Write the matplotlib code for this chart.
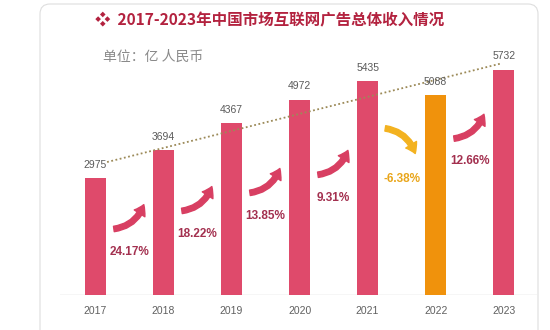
import matplotlib
matplotlib.use("Agg")
import matplotlib.pyplot as plt
import numpy as np
from matplotlib.patches import FancyArrowPatch, FancyBboxPatch

years = ["2017", "2018", "2019", "2020", "2021", "2022", "2023"]
revenue = [2975, 3694, 4367, 4972, 5435, 5088, 5732]

plt.rcParams["font.family"] = ["Noto Sans CJK SC", "DejaVu Sans"]

RED = "#df4a6b"
ORANGE = "#f0920c"
PCT_RED = "#a3304f"
PCT_GOLD = "#e9a61c"
ARROW_RED = "#d83f62"
ARROW_GOLD = "#f3b220"
GRAY_TXT = "#5a5a5a"

fig = plt.figure(figsize=(5.5, 3.3), dpi=100)

# card background
card = FancyBboxPatch((0.40, -0.2), 4.98, 3.46,
                      boxstyle="round,pad=0,rounding_size=0.1",
                      transform=fig.dpi_scale_trans, facecolor="white",
                      edgecolor="#dedede", linewidth=0.8, zorder=-1)
fig.patches.append(card)

ax = fig.add_axes([60 / 550, 1 - 295 / 330, 477 / 550, 255 / 330])
ax.set_facecolor("none")

x = np.arange(len(years))
colors = [ORANGE if v < prev else RED
          for prev, v in zip([0] + revenue[:-1], revenue)]
ax.bar(x, revenue, width=0.31, color=colors, zorder=2)

for xi, v in zip(x, revenue):
    ax.annotate(str(v), (xi, v), xytext=(0, 6), textcoords="offset points",
                ha="center", va="bottom", fontsize=7.5, color=GRAY_TXT,
                family="Liberation Sans", zorder=4)

# linear trend line
k, b = np.polyfit(x, revenue, 1)
tx = np.array([0.17, 5.95])
ax.plot(tx, k * tx + b, color="#9c8a58", lw=1.3,
        linestyle=(0, (1, 1.4)), zorder=3)

# year-on-year growth arrows and labels
for i in range(1, len(revenue)):
    pct = (revenue[i] / revenue[i - 1] - 1) * 100
    j = i - 1
    lab_y = 1100 + 460 * j
    if pct >= 0:
        start, end, rad = (j + 0.27, lab_y + 580), (j + 0.71, lab_y + 1200), 0.3
        acol, tcol = ARROW_RED, PCT_RED
    else:
        start, end, rad = (j + 0.26, lab_y + 1300), (j + 0.70, lab_y + 660), -0.3
        acol, tcol = ARROW_GOLD, PCT_GOLD
    arr = FancyArrowPatch(start, end, connectionstyle=f"arc3,rad={rad}",
                          arrowstyle="simple,head_length=0.5,head_width=0.65,tail_width=0.28",
                          mutation_scale=14, color=acol, shrinkA=0, shrinkB=0,
                          zorder=3)
    ax.add_patch(arr)
    ax.text(j + 0.5, lab_y, f"{pct:.2f}%", ha="center", va="center",
            fontsize=8.5, fontweight="bold", color=tcol,
            family="Liberation Sans", zorder=4)

ax.axhline(0, color="#d6d6d6", lw=1, zorder=1)
ax.set_xlim(-0.522, 6.49)
ax.set_ylim(0, 6489)
ax.set_xticks(x)
ax.set_xticklabels(years, family="Liberation Sans", fontsize=7.5, color="#606060")
ax.tick_params(axis="x", length=0, pad=8)
ax.set_yticks([])
for s in ax.spines.values():
    s.set_visible(False)

fig.text(0.49, 1 - 20 / 330, "❖  2017-2023年中国市场互联网广告总体收入情况",
         ha="center", va="center", fontsize=11.2, fontweight="bold",
         color="#b3223f")
fig.text(103 / 550, 1 - 57 / 330, "单位：亿 人民币", ha="left", va="center",
         fontsize=10, color="#8a8a8a")

fig.savefig("out.png", dpi=100)
